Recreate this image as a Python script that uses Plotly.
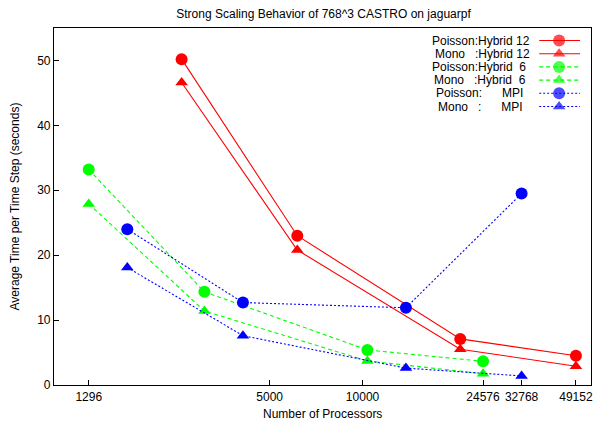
import plotly.graph_objects as go

# ---------------- data ----------------
x_hybrid12 = [2592, 6144, 20736, 49152]
poisson_hybrid12 = [50.2, 23.0, 7.1, 4.5]
mono_hybrid12 = [46.6, 20.8, 5.5, 2.9]

x_hybrid6 = [1296, 3072, 10368, 24576]
poisson_hybrid6 = [33.2, 14.35, 5.4, 3.65]
mono_hybrid6 = [27.9, 11.4, 3.7, 1.75]

x_mpi = [1728, 4096, 13824, 32768]
poisson_mpi = [24.0, 12.7, 11.9, 29.5]
mono_mpi = [18.1, 7.6, 2.6, 1.4]

x_ticks = [1296, 5000, 10000, 24576, 32768, 49152]
y_ticks = [0, 10, 20, 30, 40, 50]

title_text = "Strong Scaling Behavior of 768^3 CASTRO on jaguarpf"
x_label = "Number of Processors"
y_label = "Average Time per Time Step (seconds)"

series_names = [
    "Poisson:Hybrid 12",
    "Mono   :Hybrid 12",
    "Poisson:Hybrid  6",
    "Mono   :Hybrid  6",
    "Poisson:      MPI",
    "Mono   :      MPI",
]

RED, GREEN, BLUE = "#ff0000", "#00ff00", "#0000ff"

series = [
    # (name, x, y, color, dash, symbol)
    (series_names[0], x_hybrid12, poisson_hybrid12, RED, "solid", "circle"),
    (series_names[1], x_hybrid12, mono_hybrid12, RED, "solid", "triangle-up"),
    (series_names[2], x_hybrid6, poisson_hybrid6, GREEN, "4px,3px", "circle"),
    (series_names[3], x_hybrid6, mono_hybrid6, GREEN, "4px,3px", "triangle-up"),
    (series_names[4], x_mpi, poisson_mpi, BLUE, "2px,2px", "circle"),
    (series_names[5], x_mpi, mono_mpi, BLUE, "2px,2px", "triangle-up"),
]

W, H = 595, 421
L, R, T, B = 54, 2, 28, 36

fig = go.Figure()

for name, xs, ys, col, dash, sym in series:
    fig.add_trace(go.Scatter(
        x=xs, y=ys, mode="lines+markers", name=name,
        line=dict(color=col, width=1.1, dash=dash),
        marker=dict(color=col, size=12 if sym == "circle" else 11, symbol=sym,
                    line=dict(width=0)),
        showlegend=False,
    ))

# ---- gnuplot-style key (text right-justified, sample on its right), pixel overlay axes ----
px_left, px_right = L, W - R
py_top, py_bot = T, H - B
row_y0, row_dy = 40.5, 13.2
text_right = [533, 533, 529, 529, 526, 526]
for i, (name, xs, ys, col, dash, sym) in enumerate(series):
    yy = row_y0 + row_dy * i
    fig.add_trace(go.Scatter(
        x=[541, 561, 582], y=[yy, yy, yy], xaxis="x2", yaxis="y2",
        mode="lines+markers",
        line=dict(color=col, width=1.1, dash=dash),
        marker=dict(color=col, size=[0, 12 if sym == "circle" else 11, 0],
                    symbol=sym, line=dict(width=0)),
        showlegend=False, hoverinfo="skip",
    ))
    fig.add_annotation(x=text_right[i], y=yy, xref="x2", yref="y2",
                       text=name.replace(" ", "\u00a0"),
                       showarrow=False, xanchor="right", yanchor="middle",
                       borderpad=0, font=dict(size=12, color="black"))

# axis titles
fig.add_annotation(x=0.5, y=0, xref="paper", yref="paper", text=x_label,
                   showarrow=False, xanchor="center", yanchor="top", yshift=-21,
                   borderpad=0, font=dict(size=12, color="black"))
fig.add_annotation(x=0, y=0.5, xref="paper", yref="paper", text=y_label,
                   showarrow=False, xanchor="center", yanchor="middle", xshift=-40,
                   textangle=-90, font=dict(size=12, color="black"))

fig.update_layout(
    width=W, height=H,
    margin=dict(l=L, r=R, t=T, b=B, pad=0),
    paper_bgcolor="white", plot_bgcolor="white",
    font=dict(family="Liberation Sans, Arial, Helvetica, sans-serif", size=12, color="black"),
    title=dict(text=title_text, x=(L + (W - R - L) / 2) / W, xanchor="center",
               y=1 - 14 / H, yanchor="middle", font=dict(size=12, color="black")),
    xaxis=dict(type="log", range=[3, 4.7404], tickvals=x_ticks,
               ticktext=[str(v) for v in x_ticks],
               showgrid=False, zeroline=False, showline=True, linecolor="black",
               linewidth=1.2, mirror=True, ticks="inside", ticklen=5, tickcolor="black",
               tickfont=dict(size=12)),
    yaxis=dict(range=[0, 55], tickvals=y_ticks, showgrid=False, zeroline=False,
               showline=True, linecolor="black", linewidth=1.2, mirror=True,
               ticks="inside", ticklen=5, tickcolor="black", tickfont=dict(size=12)),
    xaxis2=dict(range=[px_left, px_right], overlaying="x", visible=False,
                domain=[0, 1], anchor="y2"),
    yaxis2=dict(range=[py_bot, py_top], overlaying="y", visible=False,
                domain=[0, 1], anchor="x2"),
)

fig.write_html("out.html")
